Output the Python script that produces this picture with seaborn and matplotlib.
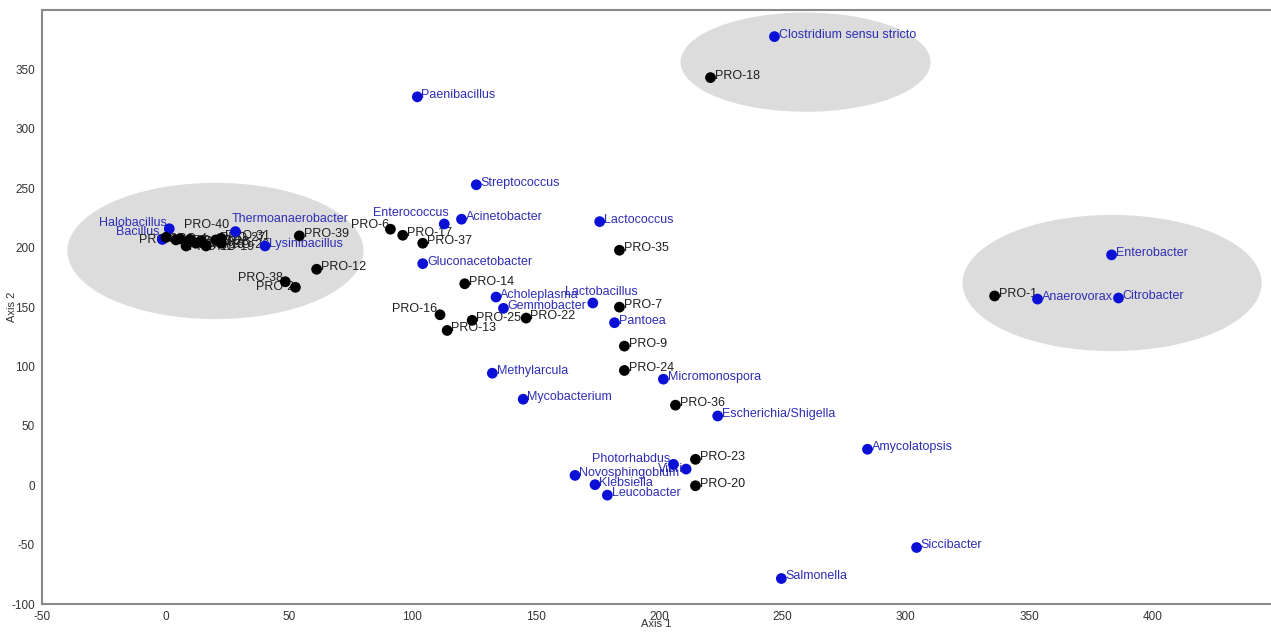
import numpy as np
import pandas as pd
import matplotlib
matplotlib.use("Agg")
import matplotlib.pyplot as plt
from matplotlib.patches import Ellipse
import seaborn as sns

# ---------- data ----------
genusNames = ["Clostridium sensu stricto", "Paenibacillus", "Streptococcus", "Enterococcus",
              "Acinetobacter", "Lactococcus", "Halobacillus", "Bacillus", "Thermoanaerobacter",
              "Lysinibacillus", "Gluconacetobacter", "Acholeplasma", "Gemmobacter", "Lactobacillus",
              "Pantoea", "Methylarcula", "Mycobacterium", "Micromonospora", "Escherichia/Shigella",
              "Photorhabdus", "Vibrio", "Novosphingobium", "Klebsiella", "Leucobacter",
              "Amycolatopsis", "Siccibacter", "Salmonella", "Enterobacter", "Anaerovorax", "Citrobacter"]
genusX = [246.8, 102.1, 126.0, 113.0, 120.0, 176.0, 1.6, -1.2, 28.4, 40.4, 104.3, 134.0, 137.0, 173.2,
          182.0, 132.5, 145.0, 201.8, 223.8, 205.9, 211.0, 166.0, 174.1, 179.1, 284.5, 304.4, 249.6,
          383.4, 353.4, 386.2]
genusY = [377.7, 327.0, 253.0, 220.0, 224.0, 222.0, 216.0, 207.0, 213.6, 201.5, 186.6, 158.5, 149.0,
          153.5, 136.9, 94.4, 72.5, 89.4, 58.4, 17.7, 13.7, 8.4, 0.6, -8.2, 30.4, -52.3, -78.4,
          194.0, 156.8, 157.7]

sampleNames = ["PRO-18", "PRO-6", "PRO-17", "PRO-37", "PRO-14", "PRO-16", "PRO-25", "PRO-13", "PRO-22",
               "PRO-35", "PRO-7", "PRO-9", "PRO-24", "PRO-36", "PRO-23", "PRO-20", "PRO-1", "PRO-39",
               "PRO-12", "PRO-38", "PRO-2", "PRO-3", "PRO-40", "PRO-4", "PRO-10", "PRO-11", "PRO-15",
               "PRO-19", "PRO-21", "PRO-28", "PRO-27", "PRO-31", "PRO-26"]
sampleX = [220.9, 91.2, 96.2, 104.3, 121.3, 111.3, 124.3, 114.2, 146.2, 184.0, 184.0, 186.0, 186.0,
           206.7, 214.8, 214.8, 336.0, 54.3, 61.3, 48.6, 52.7, 4.3, 6.0, 0.3, 8.4, 8.4, 12.4, 16.5,
           10.0, 14.5, 20.5, 22.6, 22.6]
sampleY = [343.2, 215.6, 210.5, 203.8, 169.7, 143.6, 138.9, 130.4, 140.8, 197.9, 150.0, 117.2, 96.7,
           67.5, 21.9, -0.3, 159.4, 210.0, 181.9, 171.4, 166.7, 206.6, 207.5, 208.8, 205.1, 201.5,
           203.8, 201.5, 207.0, 206.0, 206.6, 208.0, 203.8]

# grey clusters: centre x, centre y, width, height
ellipseCx = [20.3, 259.4, 383.6]
ellipseCy = [197.3, 356.2, 170.3]
ellipseW = [120.0, 101.3, 121.2]
ellipseH = [114.7, 83.5, 114.7]

# ---------- label placement (offset in points, alignment) ----------
labelPlace = {
    "Halobacillus": (-2, 4, "right"), "Bacillus": (-2, 5, "right"),
    "Enterococcus": (3, 8, "right"), "Lactobacillus": (6, 8, "center"),
    "Photorhabdus": (-2, 4, "right"), "Vibrio": (3, 0, "right"),
    "Thermoanaerobacter": (-3, 9, "left"),
    "PRO-6": (-1, 3, "right"), "PRO-16": (-2, 4, "right"), "PRO-38": (-2, 3, "right"),
    "PRO-2": (-1, 0, "right"), "PRO-3": (1, 0, "right"), "PRO-40": (3, 10, "left"),
    "PRO-4": (2, -1, "left"), "PRO-10": (2, -1, "left"), "PRO-11": (2, -1, "left"),
    "PRO-15": (2, -1, "left"), "PRO-19": (2, -1, "left"), "PRO-21": (2, -1, "left"),
    "PRO-28": (2, -1, "left"), "PRO-26": (2, -1, "left"),
}

df = pd.concat([
    pd.DataFrame({"name": genusNames, "Axis 1": genusX, "Axis 2": genusY, "group": "genus"}),
    pd.DataFrame({"name": sampleNames, "Axis 1": sampleX, "Axis 2": sampleY, "group": "sample"}),
], ignore_index=True)

sns.set_style("white")
plt.rcParams["font.family"] = ["Liberation Sans", "DejaVu Sans"]
plt.rcParams["axes.unicode_minus"] = False

fig = plt.figure(figsize=(12.71, 6.32), dpi=100)
ax = fig.add_axes([0.033, 0.044, 0.967, 0.94])

for cx, cy, w, h in zip(ellipseCx, ellipseCy, ellipseW, ellipseH):
    ax.add_patch(Ellipse((cx, cy), w, h, facecolor="#dcdcdc", edgecolor="none", zorder=0))

blueDot = "#0a10d6"
blueText = "#2e2eb4"
sns.scatterplot(data=df, x="Axis 1", y="Axis 2", hue="group",
                palette={"genus": blueDot, "sample": "black"},
                s=60, edgecolor="none", legend=False, ax=ax, zorder=3)

for _, row in df.iterrows():
    dx, dy, ha = labelPlace.get(row["name"], (3, 1.5, "left"))
    col = blueText if row["group"] == "genus" else "#1e1e1e"
    ax.annotate(row["name"], (row["Axis 1"], row["Axis 2"]), xytext=(dx, dy),
                textcoords="offset points", ha=ha, va="center",
                fontsize=9, color=col, zorder=2)

ax.set_xlim(-50, 448)
ax.set_ylim(-100, 400)
ax.set_xticks(np.arange(-50, 401, 50))
ax.set_yticks(np.arange(-100, 351, 50))
ax.tick_params(axis="both", direction="out", length=4, width=1, color="#777777",
               labelsize=8.5, labelcolor="#333333", pad=1)
for side in ["left", "bottom", "top"]:
    ax.spines[side].set_color("#8a8a8a")
    ax.spines[side].set_linewidth(1.5)
ax.spines["right"].set_visible(False)
ax.set_xlabel("Axis 1", fontsize=8, color="#333333")
ax.set_ylabel("Axis 2", fontsize=8, color="#333333")
ax.xaxis.set_label_coords(0.5, -0.034)
ax.xaxis.label.set_va("center")
ax.yaxis.set_label_coords(-0.0245, 0.5)
ax.yaxis.label.set_va("center")

fig.savefig("out.png", dpi=100)
